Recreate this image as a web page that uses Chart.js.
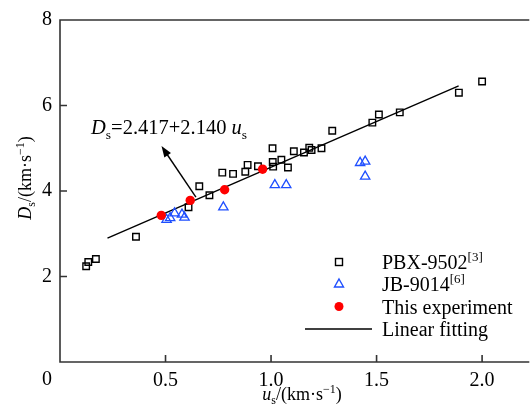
<!DOCTYPE html>
<html>
<head>
<meta charset="utf-8">
<script src="https://cdn.jsdelivr.net/npm/chart.js@4/dist/chart.umd.min.js"></script>
<style>
  html, body { margin: 0; padding: 0; background: #fff; }
  canvas { display: block; }
</style>
</head>
<body>
<canvas id="hugoniot" width="531" height="413"></canvas>
<script>
/* ---------- DATA ---------- */

// PBX-9502 [3]
const pbxUs = [0.124, 0.134, 0.170, 0.360, 0.609, 0.660, 0.708, 0.769, 0.820, 0.878,
               0.889, 0.938, 1.007, 1.008, 1.010, 1.049, 1.080, 1.108, 1.156, 1.181,
               1.192, 1.239, 1.290, 1.480, 1.511, 1.610, 1.890, 2.000];
const pbxDs = [2.24, 2.34, 2.41, 2.93, 3.62, 4.11, 3.90, 4.43, 4.40, 4.45,
               4.61, 4.58, 5.00, 4.68, 4.57, 4.73, 4.55, 4.93, 4.90, 5.01,
               4.96, 5.00, 5.41, 5.60, 5.79, 5.84, 6.30, 6.56];

// JB-9014 [6]
const jbUs = [0.505, 0.522, 0.543, 0.578, 0.590, 0.774, 1.018, 1.072, 1.422, 1.446, 1.446];
const jbDs = [3.33, 3.37, 3.48, 3.45, 3.38, 3.62, 4.14, 4.14, 4.66, 4.69, 4.34];

// this experiment
const expUs = [0.480, 0.617, 0.780, 0.960];
const expDs = [3.43, 3.78, 4.03, 4.51];

// linear fit Ds = a + b*us
const fitIntercept = 2.417;
const fitSlope = 2.140;
const fitUs = [0.225, 1.889];

const xTicks = [0.5, 1.0, 1.5, 2.0];
const yTicks = [2, 4, 6, 8];

const SERIF = '"Liberation Serif", "Times New Roman", serif';
const BLUE = '#1f4fff';
const RED = '#ff0000';

const toPoints = (xs, ys) => xs.map((v, i) => ({ x: v, y: ys[i] }));

/* ---------- RICH TEXT ---------- */

function txt(text, opts = {}) {
  return { text, size: opts.size || 18, italic: !!opts.italic, dy: opts.dy || 0 };
}
const sub = (t, size = 12) => txt(t, { size, dy: size / 3 });
const sup = (t, size = 12) => txt(t, { size, dy: -size * 0.6 });

function setFont(ctx, p) {
  ctx.font = (p.italic ? 'italic ' : '') + p.size + 'px ' + SERIF;
}

function richWidth(ctx, parts) {
  return parts.reduce((w, p) => { setFont(ctx, p); return w + ctx.measureText(p.text).width; }, 0);
}

function drawRich(ctx, x, y, parts) {
  let cx = x;
  ctx.textAlign = 'left';
  ctx.textBaseline = 'alphabetic';
  parts.forEach(p => {
    setFont(ctx, p);
    ctx.fillText(p.text, cx, y + p.dy);
    cx += ctx.measureText(p.text).width;
  });
}

/* ---------- PLUGINS ---------- */

const framePlugin = {
  id: 'frame',
  beforeDatasetsDraw(chart) {
    const { ctx, chartArea: a, scales: { x, y } } = chart;
    ctx.save();
    ctx.strokeStyle = '#333';
    ctx.lineWidth = 1.6;
    ctx.beginPath();
    ctx.moveTo(a.right + 5, a.top);
    ctx.lineTo(a.left, a.top);
    ctx.lineTo(a.left, a.bottom);
    ctx.lineTo(a.right + 5, a.bottom);
    xTicks.forEach(v => {
      const px = x.getPixelForValue(v);
      ctx.moveTo(px, a.bottom);
      ctx.lineTo(px, a.bottom - 7);
    });
    yTicks.forEach(v => {
      const py = y.getPixelForValue(v);
      ctx.moveTo(a.left, py);
      ctx.lineTo(a.left + 7, py);
    });
    ctx.stroke();
    ctx.restore();
  }
};

const decorPlugin = {
  id: 'decor',
  afterDraw(chart) {
    const { ctx, chartArea: a, scales: { x, y } } = chart;
    ctx.save();
    ctx.fillStyle = '#000';

    // shared origin label
    ctx.font = '20px ' + SERIF;
    ctx.textAlign = 'center';
    ctx.textBaseline = 'alphabetic';
    ctx.fillText('0', a.left - 13, 385);

    // x axis title
    const xTitle = [txt('u', { italic: true }), sub('s'), txt('/(km·s'), sup('−1'), txt(')')];
    drawRich(ctx, 302 - richWidth(ctx, xTitle) / 2, 400, xTitle);

    // y axis title
    const yTitle = [txt('D', { italic: true }), sub('s'), txt('/(km·s'), sup('−1'), txt(')')];
    ctx.save();
    ctx.translate(31, 178);
    ctx.rotate(-Math.PI / 2);
    drawRich(ctx, -richWidth(ctx, yTitle) / 2, 0, yTitle);
    ctx.restore();

    // fit equation with arrow to the line
    const tailX = x.getPixelForValue(0.644), tailY = y.getPixelForValue(3.856);
    const headX = x.getPixelForValue(0.481), headY = y.getPixelForValue(5.05);
    const ang = Math.atan2(headY - tailY, headX - tailX);
    ctx.strokeStyle = '#000';
    ctx.lineWidth = 1.4;
    ctx.beginPath();
    ctx.moveTo(tailX, tailY);
    ctx.lineTo(headX - 8 * Math.cos(ang), headY - 8 * Math.sin(ang));
    ctx.stroke();
    ctx.beginPath();
    ctx.moveTo(headX, headY);
    ctx.lineTo(headX - 11 * Math.cos(ang) + 4 * Math.sin(ang), headY - 11 * Math.sin(ang) - 4 * Math.cos(ang));
    ctx.lineTo(headX - 11 * Math.cos(ang) - 4 * Math.sin(ang), headY - 11 * Math.sin(ang) + 4 * Math.cos(ang));
    ctx.closePath();
    ctx.fill();

    const eq = [txt('D', { italic: true, size: 20.5 }), sub('s', 13.5),
                txt('=' + fitIntercept.toFixed(3) + '+' + fitSlope.toFixed(3) + ' ', { size: 20.5 }),
                txt('u', { italic: true, size: 20.5 }), sub('s', 13.5)];
    drawRich(ctx, x.getPixelForValue(0.147), y.getPixelForValue(5.33), eq);

    // legend
    const mx = 339, tx = 382;
    const rows = [262, 284, 306.5, 329];
    ctx.lineWidth = 1.4;
    ctx.strokeStyle = '#000';
    ctx.strokeRect(mx - 3.5, rows[0] - 3.5, 7, 7);
    ctx.strokeStyle = BLUE;
    ctx.beginPath();
    ctx.moveTo(mx, rows[1] - 5);
    ctx.lineTo(mx + 4.5, rows[1] + 3);
    ctx.lineTo(mx - 4.5, rows[1] + 3);
    ctx.closePath();
    ctx.stroke();
    ctx.fillStyle = RED;
    ctx.beginPath();
    ctx.arc(mx, rows[2], 4.5, 0, Math.PI * 2);
    ctx.fill();
    ctx.strokeStyle = '#000';
    ctx.beginPath();
    ctx.moveTo(305, rows[3]);
    ctx.lineTo(372, rows[3]);
    ctx.stroke();

    ctx.fillStyle = '#000';
    drawRich(ctx, tx, rows[0] + 7, [txt('PBX-9502', { size: 20 }), sup('[3]', 13)]);
    drawRich(ctx, tx, rows[1] + 7, [txt('JB-9014', { size: 20 }), sup('[6]', 13)]);
    drawRich(ctx, tx, rows[2] + 7, [txt('This experiment', { size: 20 })]);
    drawRich(ctx, tx, rows[3] + 7, [txt('Linear fitting', { size: 20 })]);
    ctx.restore();
  }
};

/* ---------- CHART ---------- */

const ctx = document.getElementById('hugoniot').getContext('2d');

new Chart(ctx, {
  type: 'scatter',
  data: {
    datasets: [
      {
        label: 'This experiment',
        data: toPoints(expUs, expDs),
        pointStyle: 'circle',
        pointRadius: 4.7,
        backgroundColor: RED,
        borderColor: RED,
        borderWidth: 0,
        order: 0
      },
      {
        label: 'PBX-9502',
        data: toPoints(pbxUs, pbxDs),
        pointStyle: 'rect',
        pointRadius: 4.6,
        backgroundColor: 'rgba(0,0,0,0)',
        borderColor: '#000',
        borderWidth: 1.4,
        order: 1
      },
      {
        label: 'JB-9014',
        data: toPoints(jbUs, jbDs),
        pointStyle: 'triangle',
        pointRadius: 5.4,
        backgroundColor: 'rgba(0,0,0,0)',
        borderColor: BLUE,
        borderWidth: 1.3,
        order: 2
      },
      {
        type: 'line',
        label: 'Linear fitting',
        data: fitUs.map(u => ({ x: u, y: fitIntercept + fitSlope * u })),
        borderColor: '#000',
        borderWidth: 1.4,
        pointRadius: 0,
        fill: false,
        tension: 0,
        order: 3
      }
    ]
  },
  options: {
    responsive: false,
    animation: false,
    layout: { padding: { top: 17, right: 0, left: 0, bottom: 0 } },
    plugins: {
      legend: { display: false },
      tooltip: { enabled: false }
    },
    scales: {
      x: {
        type: 'linear',
        min: 0,
        max: 2.2,
        afterBuildTicks: s => { s.ticks = xTicks.map(v => ({ value: v })); },
        afterFit: s => { s.height = 51; },
        grid: { display: false, drawTicks: false },
        border: { display: false },
        ticks: {
          padding: 7,
          color: '#000',
          font: { family: SERIF, size: 20 },
          callback: v => v.toFixed(1)
        }
      },
      y: {
        min: 0,
        max: 8,
        afterBuildTicks: s => { s.ticks = yTicks.map(v => ({ value: v })); },
        afterFit: s => { s.width = 60; },
        grid: { display: false, drawTicks: false },
        border: { display: false },
        ticks: {
          padding: 8,
          color: '#000',
          font: { family: SERIF, size: 20 },
          callback: v => String(v)
        }
      }
    }
  },
  plugins: [framePlugin, decorPlugin]
});
</script>
</body>
</html>
